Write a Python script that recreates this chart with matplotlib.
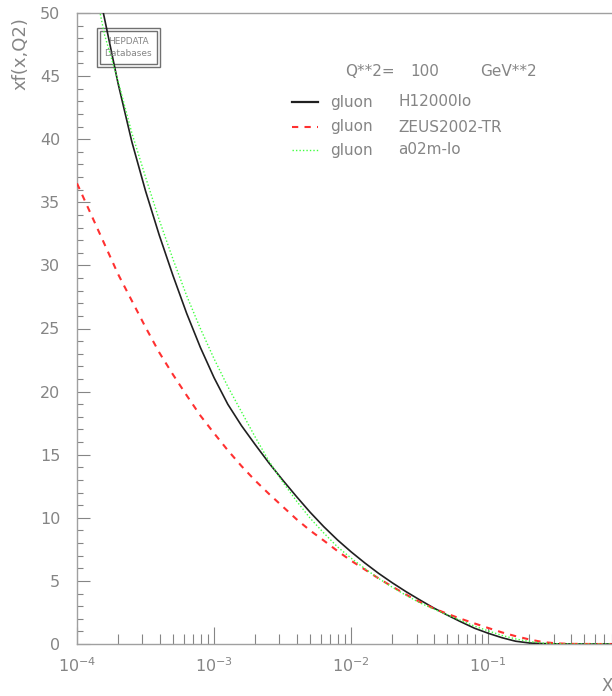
import numpy as np
import matplotlib
matplotlib.use('Agg')
import matplotlib.pyplot as plt
from matplotlib.patches import Rectangle

# log10(x) grid and xf(x,Q2) values
logx_h1 = [-3.85, -3.8, -3.7, -3.6, -3.5, -3.4, -3.3, -3.2, -3.1, -3.0, -2.9, -2.8, -2.7, -2.6,
           -2.5, -2.4, -2.3, -2.2, -2.1, -2.0, -1.9, -1.8, -1.7, -1.6, -1.5, -1.4, -1.3, -1.2,
           -1.1, -1.0, -0.9, -0.8, -0.7, -0.6, -0.5, -0.4, -0.2, -0.1]
h1 = [52.2, 49.6, 44.4, 39.8, 35.9, 32.4, 29.2, 26.2, 23.5, 21.1, 19.0, 17.3, 15.8, 14.35,
      13.0, 11.7, 10.45, 9.3, 8.25, 7.3, 6.42, 5.6, 4.85, 4.15, 3.5, 2.87, 2.3, 1.76,
      1.25, 0.85, 0.5, 0.22, 0.08, 0.03, 0.01, 0.0, 0.0, 0.0]

logx_zeus = [-4.0, -3.9, -3.8, -3.7, -3.6, -3.5, -3.4, -3.3, -3.2, -3.1, -3.0, -2.9, -2.8, -2.7,
             -2.6, -2.5, -2.4, -2.3, -2.2, -2.1, -2.0, -1.9, -1.8, -1.7, -1.6, -1.5, -1.4, -1.3,
             -1.2, -1.1, -1.0, -0.9, -0.8, -0.7, -0.6, -0.5, -0.4, -0.2, -0.1]
zeus = [36.5, 34.1, 31.7, 29.3, 27.2, 25.1, 23.1, 21.35, 19.7, 18.1, 16.7, 15.35, 14.1, 12.95,
        11.9, 10.9, 9.9, 9.0, 8.2, 7.37, 6.6, 5.9, 5.2, 4.55, 3.92, 3.34, 2.83, 2.4,
        2.0, 1.63, 1.27, 0.92, 0.62, 0.36, 0.15, 0.05, 0.01, 0.0, 0.0]

logx_a02 = [-3.85, -3.8, -3.7, -3.6, -3.5, -3.4, -3.3, -3.2, -3.1, -3.0, -2.9, -2.8, -2.7, -2.6,
            -2.5, -2.4, -2.3, -2.2, -2.1, -2.0, -1.9, -1.8, -1.7, -1.6, -1.5, -1.4, -1.3, -1.2,
            -1.1, -1.0, -0.9, -0.8, -0.7, -0.6, -0.5, -0.4, -0.2, -0.1]
a02 = [51.0, 48.3, 44.6, 40.5, 37.0, 33.6, 30.5, 27.6, 25.0, 22.6, 20.4, 18.4, 16.4, 14.5,
       12.85, 11.35, 9.98, 8.8, 7.7, 6.8, 5.97, 5.2, 4.5, 3.86, 3.27, 2.78, 2.32, 1.87,
       1.42, 1.04, 0.68, 0.4, 0.2, 0.07, 0.02, 0.0, 0.0, 0.0]

yticks = [0, 5, 10, 15, 20, 25, 30, 35, 40, 45, 50]
xticks = [1e-4, 1e-3, 1e-2, 1e-1]
xticklabels = ['$10^{-4}$', '$10^{-3}$', '$10^{-2}$', '$10^{-1}$']

grey = '#858585'
W, H = 612, 696

fig = plt.figure(figsize=(W / 100, H / 100), dpi=100)
ax = fig.add_axes([77 / W, 1 - 644 / H, 1 - 77 / W, (644 - 13) / H])

ax.plot(10 ** np.array(logx_h1), h1, color='#202020', lw=1.2, zorder=3)
ax.plot(10 ** np.array(logx_zeus), zeus, color='#ff3030', lw=1.5, ls=(0, (3, 3)), zorder=3)
ax.plot(10 ** np.array(logx_a02), a02, color='#40ff40', lw=1.0, ls=(0, (1, 1.5)), zorder=4)

ax.set_xscale('log')
ax.set_xlim(1e-4, 0.8)
ax.set_ylim(0, 50)
ax.set_yticks(yticks)
ax.set_yticks(np.arange(0, 51, 1), minor=True)
ax.set_xticks(xticks)
ax.set_xticklabels(xticklabels)
ax.tick_params(which='both', direction='in', colors=grey, labelcolor=grey, labelsize=11.5)
ax.tick_params(axis='y', which='major', length=9, pad=12, width=0.8)
ax.tick_params(axis='y', which='minor', length=4, width=0.8)
ax.tick_params(axis='x', which='major', length=12, pad=9, width=0.8)
ax.tick_params(axis='x', which='minor', length=7, width=0.8)
ax.spines['right'].set_visible(False)
for s in ['left', 'bottom', 'top']:
    ax.spines[s].set_color('#a0a0a0')
    ax.spines[s].set_linewidth(1.0)

def fx(px):
    return px / W

def fy(py):
    return 1 - py / H

# axis titles
fig.text(fx(20), fy(54), 'xf(x,Q2)', rotation=90, ha='center', va='center',
         color=grey, fontsize=13)
fig.text(fx(607), fy(686), 'X', ha='center', va='center', color=grey, fontsize=12)

# HEPDATA box
fig.patches.append(Rectangle((fx(97), fy(67)), (160 - 97) / W, (67 - 28) / H,
                             transform=fig.transFigure, fill=True, facecolor='white',
                             edgecolor='#707070', lw=1.0, zorder=1))
fig.patches.append(Rectangle((fx(100), fy(64)), (157 - 100) / W, (64 - 31) / H,
                             transform=fig.transFigure, fill=False,
                             edgecolor='#707070', lw=1.0, zorder=1))
fig.text(fx(128), fy(41), 'HEPDATA', ha='center', va='center', color=grey, fontsize=6.5)
fig.text(fx(128), fy(54), 'Databases', ha='center', va='center', color=grey, fontsize=6.5)
ax.set_zorder(2)
ax.patch.set_alpha(0)

# legend-like annotation
fig.text(fx(345), fy(72), 'Q**2=', ha='left', va='center', color=grey, fontsize=11)
fig.text(fx(410), fy(72), '100', ha='left', va='center', color=grey, fontsize=11)
fig.text(fx(480), fy(72), 'GeV**2', ha='left', va='center', color=grey, fontsize=11)

entries = [('H12000lo', '#202020', '-', 1.6, 102),
           ('ZEUS2002-TR', '#ff3030', (0, (3, 3)), 1.5, 127),
           ('a02m-lo', '#40ff40', (0, (1, 1.5)), 1.0, 150)]
for name, c, ls, lw, py in entries:
    fig.add_artist(plt.Line2D([fx(292), fx(318)], [fy(py), fy(py)], color=c, ls=ls, lw=lw,
                              transform=fig.transFigure))
    fig.text(fx(330), fy(py), 'gluon', ha='left', va='center', color=grey, fontsize=11)
    fig.text(fx(398), fy(py), name, ha='left', va='center', color=grey, fontsize=11)

fig.savefig('out.png', dpi=100)
